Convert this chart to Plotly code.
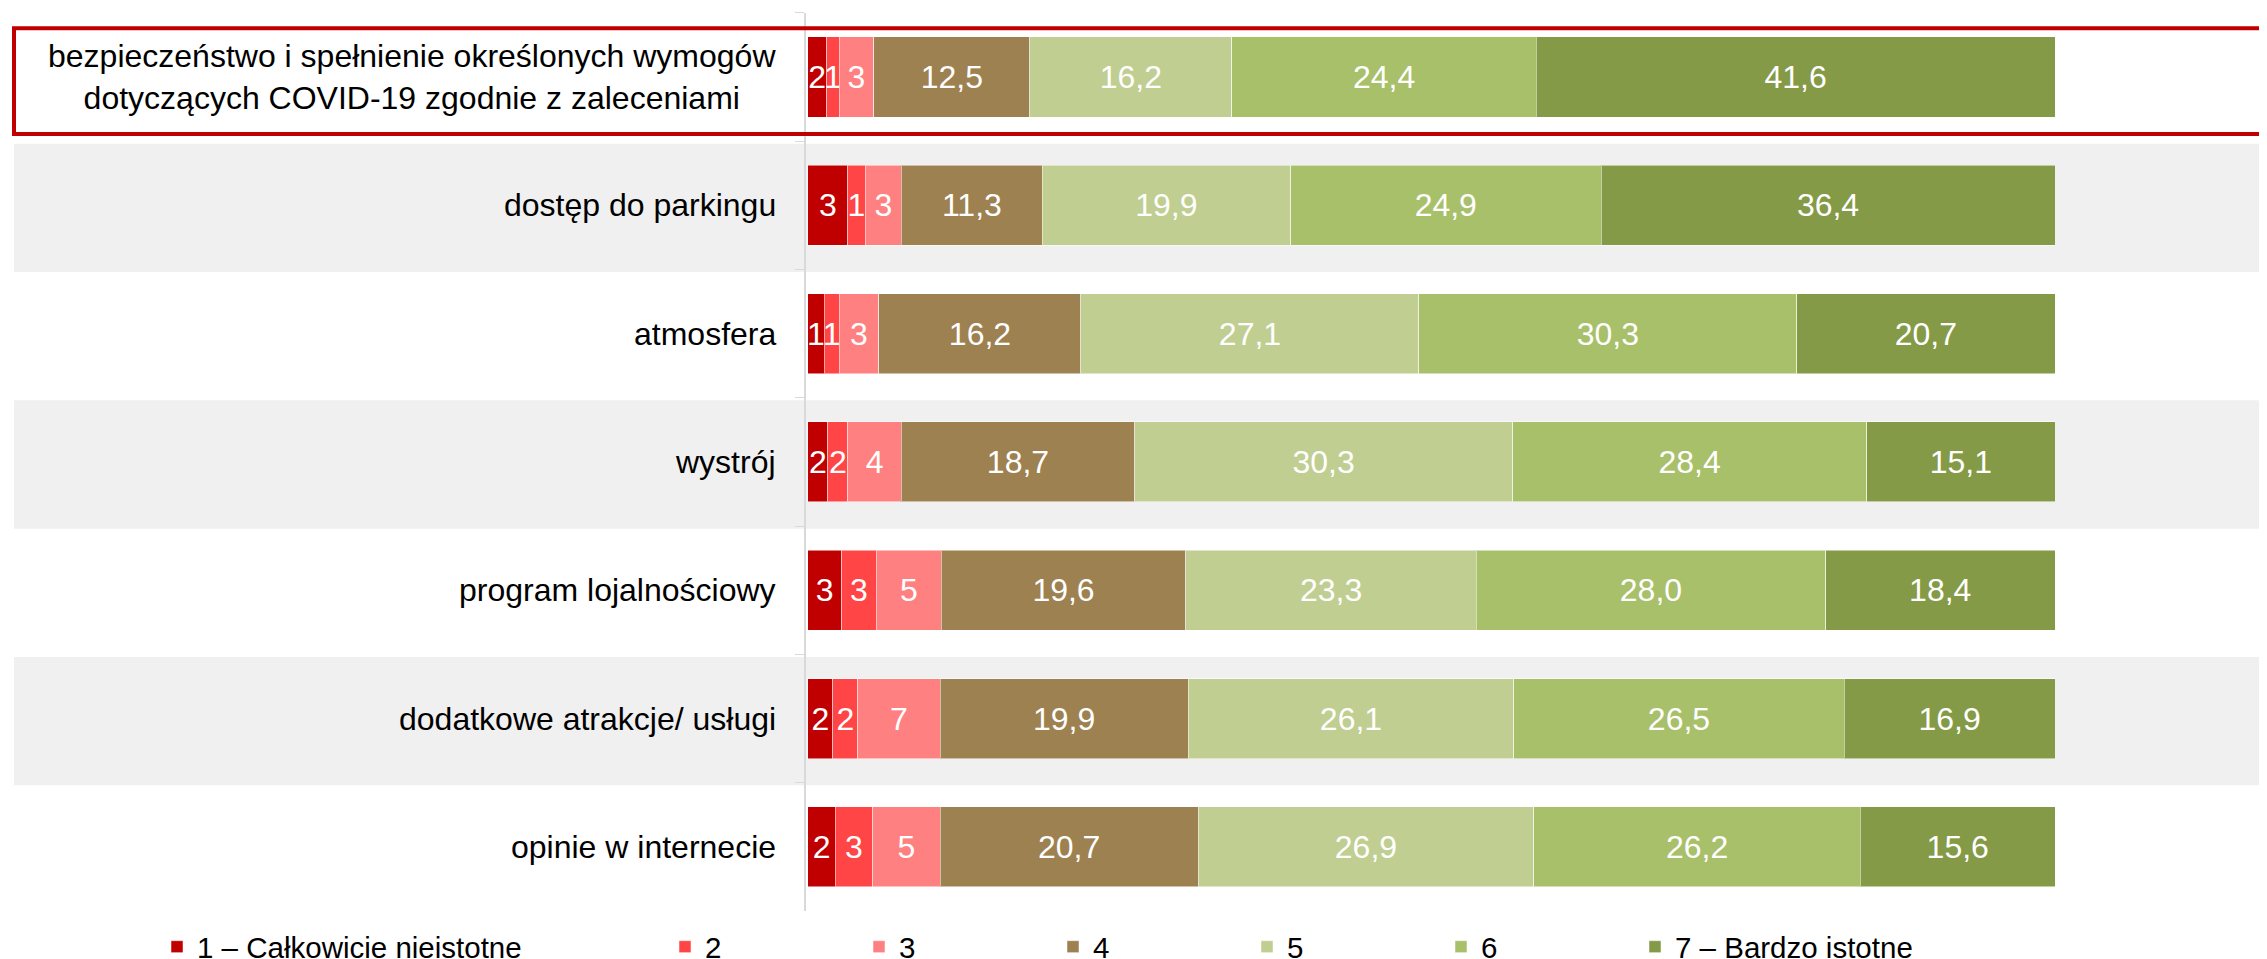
import plotly.graph_objects as go

# Categories, top to bottom
categories = [
    'bezpieczeństwo i spełnienie określonych wymogów<br>dotyczących COVID-19 zgodnie z zaleceniami',
    'dostęp do parkingu',
    'atmosfera',
    'wystrój',
    'program lojalnościowy',
    'dodatkowe atrakcje/ usługi',
    'opinie w internecie',
]

series_names = [
    '1 – Całkowicie nieistotne', '2', '3', '4', '5', '6', '7 – Bardzo istotne',
]

# one list per answer (1..7), values per category, in %
s1 = [1.5, 3.2, 1.3, 1.6, 2.7, 2.0, 2.2]
s2 = [1.0, 1.4, 1.2, 1.6, 2.8, 2.0, 3.0]
s3 = [2.8, 2.9, 3.2, 4.3, 5.2, 6.6, 5.4]
s4 = [12.5, 11.3, 16.2, 18.7, 19.6, 19.9, 20.7]
s5 = [16.2, 19.9, 27.1, 30.3, 23.3, 26.1, 26.9]
s6 = [24.4, 24.9, 30.3, 28.4, 28.0, 26.5, 26.2]
s7 = [41.6, 36.4, 20.7, 15.1, 18.4, 16.9, 15.6]

colors = ['#C00000', '#FF4545', '#FF8080', '#9E8150', '#C0CE91', '#A9C06B', '#849A47']

# the page body has an 8px margin, so the figure is a bit smaller than the window
W, H = 2267, 959
OFF = 8
FW, FH = W - OFF, H - OFF
FONT = 'Liberation Sans, Arial, sans-serif'


def px(x):
    # window pixel -> paper x
    return (x - OFF) / FW


def py(y):
    # window pixel -> paper y
    return 1 - (y - OFF) / FH


def fmt(v):
    # small shares shown as integers, others with one decimal and a comma
    if v < 10:
        return str(int(round(v)))
    return f'{v:.1f}'.replace('.', ',')


# legend groups: first entry alone, middle entries evenly spaced, last one alone
legend_of = ['legend', 'legend2', 'legend2', 'legend2', 'legend2', 'legend2', 'legend3']

fig = go.Figure()
for i, (name, vals) in enumerate(zip(series_names, [s1, s2, s3, s4, s5, s6, s7])):
    fig.add_trace(go.Bar(
        y=categories, x=vals, name=name, orientation='h',
        marker=dict(color=colors[i], line=dict(color='rgba(255,255,255,0.5)', width=1)),
        text=[fmt(v) for v in vals],
        textposition='inside', insidetextanchor='middle', textangle=0,
        constraintext='none',
        textfont=dict(color='white', size=32, family=FONT),
        legend=legend_of[i],
        hoverinfo='skip',
    ))

shapes = []
# alternating grey bands
for i in (1, 3, 5):
    shapes.append(dict(type='rect', xref='paper', yref='y', x0=px(14), x1=1.0,
                       y0=i - 0.48, y1=i + 0.52, fillcolor='#F0F0F0',
                       line=dict(width=0), layer='below'))
# red highlight frame around first row
shapes.append(dict(type='rect', xref='paper', yref='y', x0=px(14), x1=1.02,
                   y0=-0.38, y1=0.445, line=dict(color='#C00000', width=4),
                   fillcolor='rgba(0,0,0,0)', layer='above'))

annotations = []
for c in categories:
    annotations.append(dict(
        x=px(778), xref='paper', y=c, yref='y', text=c, showarrow=False,
        xanchor='right', yanchor='middle', align='center',
        font=dict(size=32, color='black', family=FONT),
    ))

leg_common = dict(orientation='h', y=py(947), yanchor='middle', xanchor='left',
                  font=dict(size=29.5, family=FONT), bgcolor='rgba(0,0,0,0)',
                  traceorder='normal')

fig.update_layout(
    width=FW, height=FH,
    margin=dict(l=0, r=0, t=0, b=0, autoexpand=False),
    paper_bgcolor='white', plot_bgcolor='rgba(0,0,0,0)',
    barmode='stack', bargap=0.376,
    font=dict(family=FONT, color='black'),
    shapes=shapes, annotations=annotations,
    xaxis=dict(domain=[px(806), px(2055)], range=[-0.15, 100], visible=False),
    yaxis=dict(domain=[py(911), py(12.85)], autorange='reversed',
               showticklabels=False, showline=True, linecolor='#D9D9D9', linewidth=2,
               ticks='outside', tickson='boundaries', ticklen=9, tickcolor='#D9D9D9',
               showgrid=False, zeroline=False),
    legend=dict(x=149 / FW, **leg_common),
    legend2=dict(x=657 / FW, entrywidth=149, entrywidthmode='pixels', **leg_common),
    legend3=dict(x=(657 + 5 * 194) / FW, **leg_common),
    showlegend=True,
)

fig.write_html('out.html')
